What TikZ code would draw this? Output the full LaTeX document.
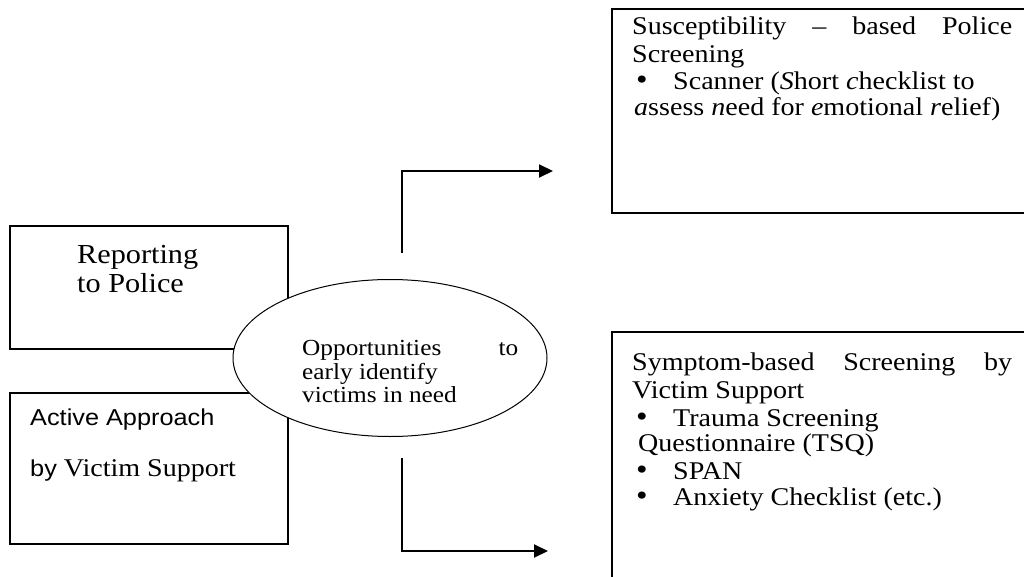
\documentclass[tikz,border=0pt]{standalone}
\usepackage{fontspec}
\setmainfont{Liberation Serif}[FakeStretch=1.1]
\setsansfont{Liberation Sans}[FakeStretch=1.1]
\usetikzlibrary{arrows.meta,shapes.geometric}
\tikzset{
  boxnode/.style={draw, line width=2pt, anchor=north west, inner sep=0pt},
  txt/.style={anchor=base west, inner sep=0pt},
  bodyfont/.style={font=\fontsize{25.5}{28}\selectfont},
  ellfont/.style={font=\fontsize{23}{26}\selectfont},
  bigfont/.style={font=\fontsize{27.5}{31}\selectfont},
  conn/.style={line width=2pt, -{Triangle[length=14pt,width=13pt]}}
}
\newcommand{\blt}{\makebox[37pt][l]{\fontsize{30}{28}\selectfont\textbullet}}
\begin{document}
\begin{tikzpicture}[x=1pt,y=-1pt]
\clip (0,0) rectangle (1024,577);
\fill[white] (0,0) rectangle (1024,577);
% boxes
\node[boxnode, minimum width=278pt, minimum height=123pt] (rep) at (9,225) {};
\node[boxnode, minimum width=278pt, minimum height=151pt] (act) at (9,392) {};
\node[boxnode, minimum width=420pt, minimum height=204pt] (sus) at (611,8) {};
\node[boxnode, minimum width=420pt, minimum height=260pt] (sym) at (611,331) {};
% ellipse
\node[ellipse, draw, line width=1pt, fill=white, minimum width=314pt, minimum height=157pt, inner sep=0pt] (opp) at (390,358) {};
% text box 1
\node[txt, bigfont] (r1) at (77,263) {Reporting};
\node[txt, bigfont] (r2) at (77,292) {to Police};
% text box 2
\node[txt] (a1) at (30,425) {\sffamily\fontsize{23}{26}\selectfont Active Approach};
\node[txt] (a2) at (30,476) {{\sffamily\fontsize{23}{26}\selectfont by }{\fontsize{25.5}{28}\selectfont Victim Support}};
% ellipse text
\node[txt, ellfont] (o1) at (302,355) {\makebox[216pt][s]{Opportunities to}};
\node[txt, ellfont] (o2) at (302,379) {early identify};
\node[txt, ellfont] (o3) at (302,402) {victims in need};
% box 3 text
\node[txt, bodyfont] (s1) at (632,35) {\makebox[380pt][s]{Susceptibility – based Police}};
\node[txt, bodyfont] (s2) at (632,63) {Screening};
\node[txt, bodyfont] (s3) at (636,90) {\blt Scanner (\textit{S}hort \textit{c}hecklist to};
\node[txt, bodyfont] (s4) at (634,116) {\textit{a}ssess \textit{n}eed for \textit{e}motional \textit{r}elief)};
% box 4 text
\node[txt, bodyfont] (y1) at (632,370) {\makebox[380pt][s]{Symptom-based Screening by}};
\node[txt, bodyfont] (y2) at (632,398) {Victim Support};
\node[txt, bodyfont] (y3) at (636,426) {\blt Trauma Screening};
\node[txt, bodyfont] (y4) at (638,451) {Questionnaire (TSQ)};
\node[txt, bodyfont] (y5) at (636,479) {\blt SPAN};
\node[txt, bodyfont] (y6) at (636,505) {\blt Anxiety Checklist (etc.)};
% connectors
\coordinate (up0) at (402,253);
\coordinate (up1) at (553,171);
\coordinate (dn0) at (402,458);
\coordinate (dn1) at (548,551);
\draw[conn] (up0) |- (up1);
\draw[conn] (dn0) |- (dn1);
\end{tikzpicture}
\end{document}
